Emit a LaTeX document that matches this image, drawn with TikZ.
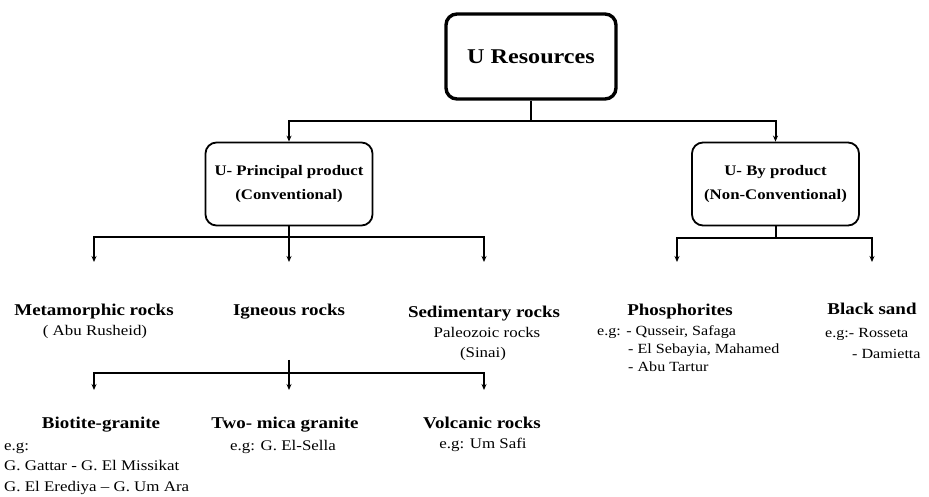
\documentclass[tikz,border=0pt]{standalone}
\usepackage{fontspec}
\setmainfont[FakeStretch=1.15]{Liberation Serif}
\usetikzlibrary{arrows.meta}
\begin{document}
\begin{tikzpicture}[x=1pt,y=-1pt,
  box/.style={draw, rounded corners=11pt, line width=1.8pt, minimum width=167pt, minimum height=83pt,
    align=center, inner sep=0pt, font=\fontsize{14.6}{24}\selectfont\bfseries},
  topbox/.style={draw, rounded corners=11pt, line width=3.4pt, minimum width=170pt, minimum height=85pt,
    inner sep=0pt, font=\fontsize{21}{25}\selectfont\bfseries},
  ttl/.style={anchor=base, inner sep=0pt, font=\fontsize{16.5}{20}\selectfont\bfseries},
  dtl/.style={anchor=base, inner sep=0pt, font=\fontsize{14.7}{20}\selectfont},
  dtlw/.style={dtl, anchor=base west},
  dtls/.style={anchor=base west, inner sep=0pt, font=\fontsize{14}{18}\selectfont},
  conn/.style={line width=2pt},
  arr/.style={conn, -{Stealth[length=6pt,width=5pt]}}
]
\useasboundingbox (0,0) rectangle (929,497);

% boxes
\node[topbox] (top) at (531,56.5) {U Resources};
\node[box] (pp) at (289,184) {U- Principal product\\(Conventional)};
\node[box] (bp) at (775.5,184) {U- By product\\(Non-Conventional)};

% level 1 connectors
\coordinate (j1) at (531,121);
\draw[conn] (top.south) -- (j1);
\draw[arr] (j1) -| (pp.north);
\draw[arr] (j1) -| (bp.north);

% principal branch
\coordinate (j2) at (289,237);
\coordinate (metaIn) at (94,262);
\coordinate (ignIn) at (289,262);
\coordinate (sedIn) at (484,262);
\draw[conn] (pp.south) -- (j2);
\draw[arr] (j2) -| (metaIn);
\draw[arr] (j2) -- (ignIn);
\draw[arr] (j2) -| (sedIn);

% by-product branch
\coordinate (j3) at (775.5,238);
\coordinate (phIn) at (677,262);
\coordinate (bsIn) at (872,262);
\draw[conn] (bp.south) -- (j3);
\draw[arr] (j3) -| (phIn);
\draw[arr] (j3) -| (bsIn);

% level 2 texts
\node[ttl] (meta) at (94,315) {Metamorphic rocks};
\node[dtl] (metaD) at (95,335) {( Abu Rusheid)};
\node[ttl] (ign) at (289,315) {Igneous rocks};
\node[ttl] (sed) at (484,317) {Sedimentary rocks};
\node[dtl] (sedD1) at (487,337) {Paleozoic rocks};
\node[dtl] (sedD2) at (483,357) {(Sinai)};

\node[ttl] (phos) at (680,315) {Phosphorites};
\node[dtls] (phosD1) at (597,335) {e.g: - Qusseir, Safaga};
\node[dtls] (phosD2) at (628,353) {- El Sebayia, Mahamed};
\node[dtls] (phosD3) at (628,371) {- Abu Tartur};
\node[ttl] (bs) at (872,314) {Black sand};
\node[dtls] (bsD1) at (825,337) {e.g:- Rosseta};
\node[dtls] (bsD2) at (852,358) {- Damietta};

% igneous branch
\coordinate (j4) at (289,373);
\coordinate (bioIn) at (94,390);
\coordinate (twoIn) at (289,390);
\coordinate (volIn) at (484,390);
\draw[conn, shorten <=41pt] (ign.south) -- (j4);
\draw[arr] (j4) -| (bioIn);
\draw[arr] (j4) -- (twoIn);
\draw[arr] (j4) -| (volIn);

% level 3 texts
\node[ttl] (bio) at (101,428) {Biotite-granite};
\node[dtlw] (bioD1) at (4,450) {e.g:};
\node[dtlw] (bioD2) at (4,470) {G. Gattar - G. El Missikat};
\node[dtlw] (bioD3) at (4,491) {G. El Erediya -- G. Um Ara};
\node[ttl] (two) at (285,428) {Two- mica granite};
\node[dtl] (twoD) at (283,450) {e.g: G. El-Sella};
\node[ttl] (vol) at (482,428) {Volcanic rocks};
\node[dtl] (volD) at (483,448) {e.g: Um Safi};
\end{tikzpicture}
\end{document}
